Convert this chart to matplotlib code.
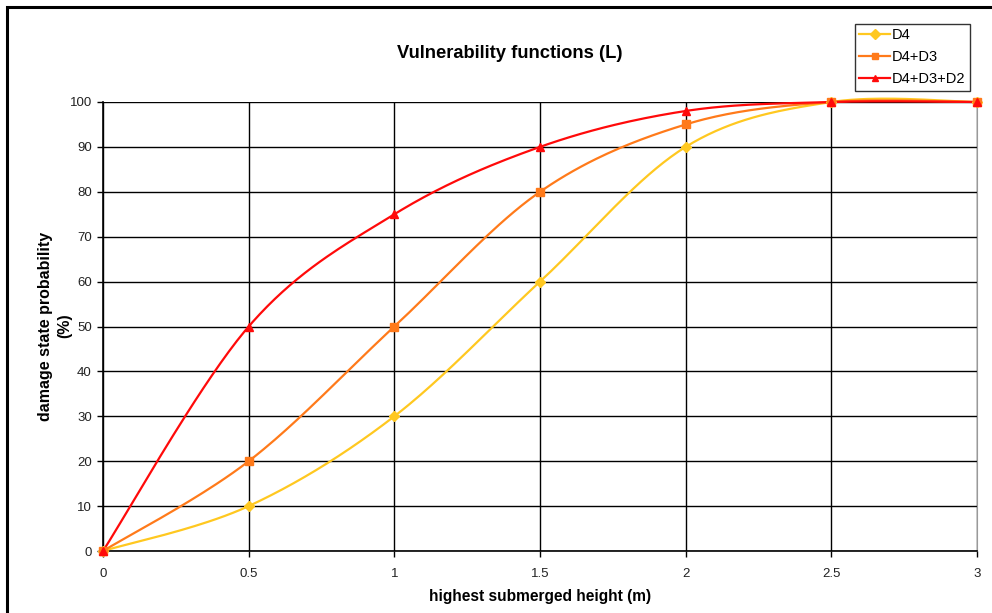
import numpy as np
import matplotlib
matplotlib.use("Agg")
import matplotlib.pyplot as plt
from matplotlib.patches import Rectangle

plt.rcParams['font.family'] = ['Liberation Sans', 'DejaVu Sans']

heights = [0, 0.5, 1, 1.5, 2, 2.5, 3]
d4 = [0, 10, 30, 60, 90, 100, 100]
d4_d3 = [0, 20, 50, 80, 95, 100, 100]
d4_d3_d2 = [0, 50, 75, 90, 98, 100, 100]
series_names = ["D4", "D4+D3", "D4+D3+D2"]
x_ticks = [0, 0.5, 1, 1.5, 2, 2.5, 3]
x_ticklabels = ["0", "0.5", "1", "1.5", "2", "2.5", "3"]
y_ticks = list(range(0, 101, 10))


def smooth(xs, ys, n=40):
    """Excel-like smoothed line (cubic Bezier through the points)."""
    P = np.column_stack([xs, ys]).astype(float)
    m = len(P)
    out = [P[0]]
    t = np.linspace(0, 1, n)[1:, None]
    for i in range(m - 1):
        p0 = P[i - 1] if i > 0 else P[i]
        p1, p2 = P[i], P[i + 1]
        p3 = P[i + 2] if i + 2 < m else P[i + 1]
        c1 = p1 + (p2 - p0) / 6
        c2 = p2 - (p3 - p1) / 6
        seg = ((1 - t) ** 3) * p1 + 3 * ((1 - t) ** 2) * t * c1 + 3 * (1 - t) * t ** 2 * c2 + t ** 3 * p2
        out.extend(seg)
    out = np.array(out)
    return out[:, 0], out[:, 1]


W, H = 992, 613
fig = plt.figure(figsize=(W / 100, H / 100), dpi=100)
ax = fig.add_axes([103 / W, 1 - 551 / H, (977 - 103) / W, (551 - 102) / H])

styles = [
    (d4, "#FFC820", "D"),
    (d4_d3, "#FF7A1A", "s"),
    (d4_d3_d2, "#FF0A0A", "^"),
]
handles = []
for (vals, col, mk), name in zip(styles, series_names):
    sx, sy = smooth(heights, vals)
    ax.plot(sx, sy, color=col, lw=1.6, zorder=3, clip_on=False)
    ax.plot(heights, vals, ls="none", marker=mk, color=col, ms=5.5, zorder=4, clip_on=False)
    h, = ax.plot([], [], color=col, lw=1.6, marker=mk, ms=5, label=name)
    handles.append(h)

ax.set_xlim(0, 3)
ax.set_ylim(0, 100)
ax.set_xticks(x_ticks)
ax.set_xticklabels(x_ticklabels)
ax.set_yticks(y_ticks)
ax.grid(True, color="black", lw=1.0, zorder=1)
ax.set_axisbelow(True)
for s in ["left", "bottom"]:
    ax.spines[s].set_color("black")
    ax.spines[s].set_linewidth(1.2)
ax.spines["right"].set_color("#999999")
ax.spines["top"].set_visible(False)
ax.tick_params(axis="both", direction="out", length=4, width=1, labelsize=9.5,
               colors="black", labelcolor="#222222", pad=4)
ax.tick_params(axis="x", pad=8)

fig.text(510 / W, 1 - 53 / H, "Vulnerability functions (L)", ha="center", va="center",
         fontsize=13.2, fontweight="bold")
fig.text(540 / W, 1 - 597 / H, "highest submerged height (m)", ha="center", va="center",
         fontsize=11.2, fontweight="bold")
fig.text(55 / W, 1 - 326 / H, "damage state probability\n(%)", ha="center", va="center",
         rotation=90, fontsize=11.5, fontweight="bold", linespacing=1.3)

leg = fig.legend(handles=handles, loc="upper left", bbox_to_anchor=(855 / W, 1 - 24 / H),
                 frameon=True, fancybox=False, shadow=False, fontsize=10.5,
                 handlelength=2.1, handletextpad=0.15, borderpad=0.3, labelspacing=0.55,
                 borderaxespad=0)
leg.get_frame().set_edgecolor("black")
leg.get_frame().set_linewidth(1.0)

fig.patches.append(Rectangle((7 / W, -0.05), 1.1, 1 - 7 / H + 0.05, transform=fig.transFigure,
                             fill=False, edgecolor="black", lw=2.2))

fig.savefig("out.png", dpi=100)
